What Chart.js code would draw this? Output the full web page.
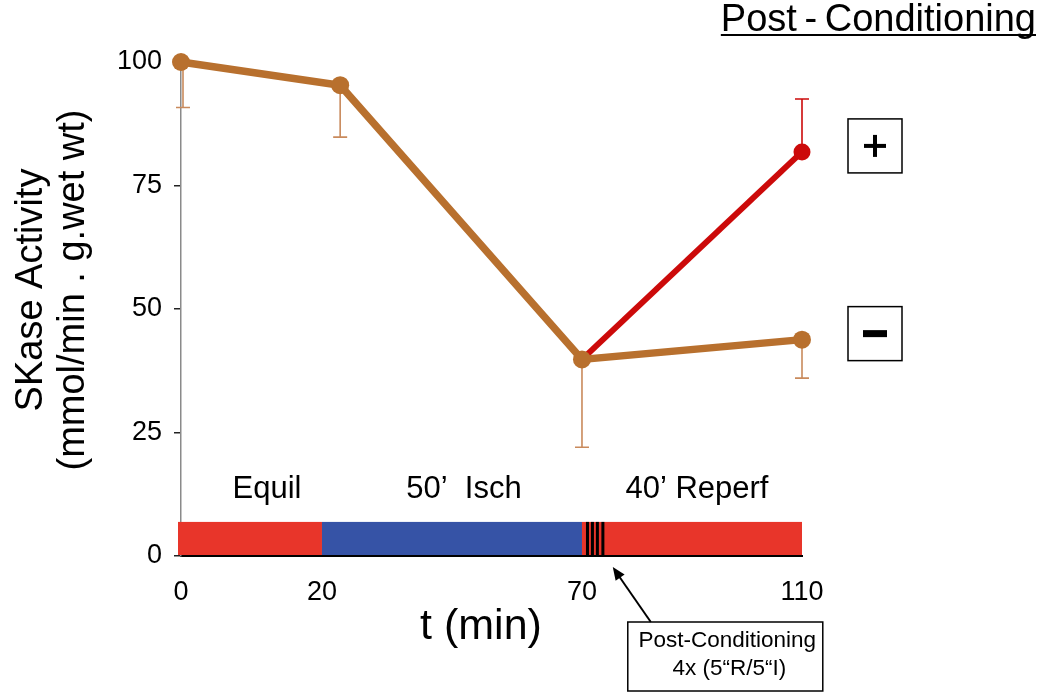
<!DOCTYPE html>
<html><head><meta charset="utf-8">
<script src="https://cdn.jsdelivr.net/npm/chart.js@4.4.1/dist/chart.umd.min.js"></script>
<style>html,body{margin:0;padding:0;background:#fff}#wrap{width:1050px;height:693px;position:relative}</style>
</head><body><div id="wrap"><canvas id="c" width="1050" height="693"></canvas></div>
<script>
// ---- data ----
const tickValues = [0, 20, 70, 110];
const tickFractions = [0, 0.227, 0.6457, 1];   // non-uniform time axis of the original
const yTicks = [0, 25, 50, 75, 100];
const timesMinus = [0, 23.5, 70, 110];
const valuesMinus = [100, 95.3, 39.8, 43.8];
const errMinus = [9.2, 10.5, 17.8, 7.8];        // lower error only
const timesPlus = [70, 110];
const valuesPlus = [39.8, 81.8];
const errPlus = [0, 10.7];                       // upper error only
const phaseStarts = [0, 20, 70];
const phaseEnds = [20, 70, 110];
const phaseColors = ['#e8352a', '#3653a6', '#e8352a'];
const phaseLabels = ['Equil', '50’  Isch', '40’ Reperf'];
const phaseLabelTimes = [12.2, 47.3, 90.9];
const phaseLabelValue = 13.4;
const phaseBarValue = 6.9;
const stripeTimes = [71.0, 71.9, 72.8, 73.8];
const arrowTime = 75.6;
const yTitleLines = ['SKase Activity', '(mmol/min . g.wet wt)'];
const xTitle = 't (min)';

const FONT = "'Liberation Sans', Arial, sans-serif";
const BROWN = '#b8702e';
const BROWN_ERR = '#c98a5c';
const RED = '#cc0a0a';

// ---- custom piecewise linear scale ----
function interp(v, xs, ys) {
  let i = 0;
  while (i < xs.length - 2 && v > xs[i + 1]) i++;
  return ys[i] + (v - xs[i]) * (ys[i + 1] - ys[i]) / (xs[i + 1] - xs[i]);
}
class PiecewiseScale extends Chart.LinearScale {
  getPixelForValue(value) {
    return this.getPixelForDecimal(interp(Number(value), tickValues, tickFractions));
  }
  getValueForPixel(pixel) {
    return interp(this.getDecimalForPixel(pixel), tickFractions, tickValues);
  }
}
PiecewiseScale.id = 'piecewise';
PiecewiseScale.defaults = {};
Chart.register(PiecewiseScale);

// ---- drawing helpers (plugins) ----
const decor = {
  id: 'decor',
  beforeDatasetsDraw(chart) {
    const ctx = chart.ctx, xs = chart.scales.x, ys = chart.scales.y;
    const y0 = ys.getPixelForValue(0) - 1, yb = ys.getPixelForValue(phaseBarValue);
    ctx.save();
    phaseStarts.forEach((s, i) => {
      const a = xs.getPixelForValue(s), b = xs.getPixelForValue(phaseEnds[i]);
      ctx.fillStyle = phaseColors[i];
      ctx.fillRect(a - (i === 0 ? 3 : 0), yb, b - a + (i === 0 ? 3 : 0), y0 - yb);
    });
    ctx.fillStyle = '#000';
    stripeTimes.forEach(t => {
      const x = xs.getPixelForValue(t);
      ctx.fillRect(x - 1.5, yb, 3, y0 - yb);
    });
    ctx.font = `31px ${FONT}`;
    ctx.textAlign = 'center'; ctx.textBaseline = 'middle';
    phaseLabels.forEach((l, i) => {
      ctx.fillText(l, xs.getPixelForValue(phaseLabelTimes[i]), ys.getPixelForValue(phaseLabelValue));
    });
    // error bars
    function err(times, vals, errs, dir, color) {
      ctx.strokeStyle = color; ctx.lineWidth = 1.6;
      times.forEach((t, i) => {
        if (!errs[i]) return;
        const x = xs.getPixelForValue(t) + (i === 0 && dir < 0 ? 2 : 0);
        const y1 = ys.getPixelForValue(vals[i]), y2 = ys.getPixelForValue(vals[i] + dir * errs[i]);
        ctx.beginPath(); ctx.moveTo(x, y1); ctx.lineTo(x, y2);
        ctx.moveTo(x - 7, y2); ctx.lineTo(x + 7, y2); ctx.stroke();
      });
    }
    err(timesMinus, valuesMinus, errMinus, -1, BROWN_ERR);
    err(timesPlus, valuesPlus, errPlus, 1, RED);
    ctx.restore();
  },
  afterDraw(chart) {
    const ctx = chart.ctx, xs = chart.scales.x, ys = chart.scales.y, ca = chart.chartArea;
    ctx.save();
    ctx.fillStyle = '#000';
    // axis titles
    ctx.textAlign = 'center'; ctx.textBaseline = 'middle';
    ctx.font = `43px ${FONT}`;
    ctx.fillText(xTitle, 481, 627);
    ctx.save();
    ctx.translate(0, 290);
    ctx.rotate(-Math.PI / 2);
    ctx.font = `38px ${FONT}`;
    ctx.fillText(yTitleLines[0], 0, 32);
    ctx.fillText(yTitleLines[1], 0, 74);
    ctx.restore();
    // top title with underline
    ctx.font = `38px ${FONT}`;
    ctx.textAlign = 'right'; ctx.textBaseline = 'alphabetic';
    const title = 'Post\u2009-\u2009Conditioning';
    const tw = ctx.measureText(title).width;
    ctx.fillText(title, 1036, 31);
    ctx.fillRect(1036 - tw, 34, tw, 2);
    // +/- boxes
    const bx = ca.right + 46, bs = 54;
    [[valuesPlus[valuesPlus.length - 1], '+'], [valuesMinus[valuesMinus.length - 1], '−']].forEach(([v, s]) => {
      const cy = ys.getPixelForValue(v) - 6;
      ctx.strokeStyle = '#000'; ctx.lineWidth = 1.5;
      ctx.strokeRect(bx, cy - bs / 2, bs, bs);
      ctx.fillStyle = '#000';
      if (s === '+') {
        ctx.fillRect(bx + bs / 2 - 11, cy - 2, 22, 4);
        ctx.fillRect(bx + bs / 2 - 2, cy - 11, 4, 22);
      } else {
        ctx.fillRect(bx + bs / 2 - 12, cy - 3.5, 24, 7);
      }
    });
    // annotation box with arrow
    const tipX = xs.getPixelForValue(arrowTime), tipY = ys.getPixelForValue(0) + 11;
    const endX = tipX + 38, endY = tipY + 55;
    ctx.strokeStyle = '#000'; ctx.lineWidth = 2;
    ctx.beginPath(); ctx.moveTo(endX, endY); ctx.lineTo(tipX + 4, tipY + 6); ctx.stroke();
    const ang = Math.atan2(tipY - endY, tipX - endX);
    ctx.beginPath();
    ctx.moveTo(tipX, tipY);
    ctx.lineTo(tipX - 14 * Math.cos(ang - 0.4), tipY - 14 * Math.sin(ang - 0.4));
    ctx.lineTo(tipX - 14 * Math.cos(ang + 0.4), tipY - 14 * Math.sin(ang + 0.4));
    ctx.closePath(); ctx.fill();
    const boxL = endX - 23, boxT = endY, boxW = 195, boxH = 69;
    ctx.lineWidth = 1.5;
    ctx.strokeRect(boxL, boxT, boxW, boxH);
    ctx.font = `22.5px ${FONT}`; ctx.textAlign = 'center'; ctx.textBaseline = 'middle';
    ctx.fillText('Post-Conditioning', boxL + boxW / 2 + 2, boxT + 19);
    ctx.fillText('4x (5“R/5“I)', boxL + boxW / 2 + 4, boxT + 47);
    ctx.restore();
  }
};

new Chart(document.getElementById('c'), {
  type: 'line',
  data: {
    datasets: [
      {
        label: '−',
        data: timesMinus.map((t, i) => ({ x: t, y: valuesMinus[i] })),
        borderColor: BROWN, backgroundColor: BROWN, borderWidth: 7.5,
        pointRadius: 9, pointBackgroundColor: BROWN, pointBorderWidth: 0,
        tension: 0, clip: false, order: 0
      },
      {
        label: '+',
        data: timesPlus.map((t, i) => ({ x: t, y: valuesPlus[i] })),
        borderColor: RED, backgroundColor: RED, borderWidth: 6,
        pointRadius: [0, 8.5], pointBackgroundColor: RED, pointBorderWidth: 0,
        tension: 0, clip: false, order: 1
      }
    ]
  },
  options: {
    responsive: false, animation: false, devicePixelRatio: 1,
    layout: { padding: { top: 62, right: 248, bottom: 0, left: 0 } },
    plugins: { legend: { display: false }, tooltip: { enabled: false } },
    scales: {
      x: {
        type: 'piecewise', min: 0, max: 110,
        afterBuildTicks: s => { s.ticks = tickValues.map(v => ({ value: v })); },
        afterFit: s => { s.height = 137; },
        ticks: { font: { size: 27, family: FONT }, color: '#000', padding: 12, maxRotation: 0, autoSkip: false },
        grid: { display: false },
        border: { display: true, color: '#000', width: 2 },
        title: { display: false }
      },
      y: {
        type: 'linear', min: 0, max: 100,
        afterBuildTicks: s => { s.ticks = yTicks.map(v => ({ value: v })); },
        afterFit: s => { s.width = 181; },
        ticks: { font: { size: 27, family: FONT }, color: '#000', padding: 12 },
        grid: { display: true, drawOnChartArea: false, drawTicks: true, tickLength: 7, color: '#222', lineWidth: 1.5 },
        border: { display: true, color: '#8a8a8a', width: 1.5 },
        title: { display: false }
      }
    }
  },
  plugins: [decor]
});
</script>
</body></html>
